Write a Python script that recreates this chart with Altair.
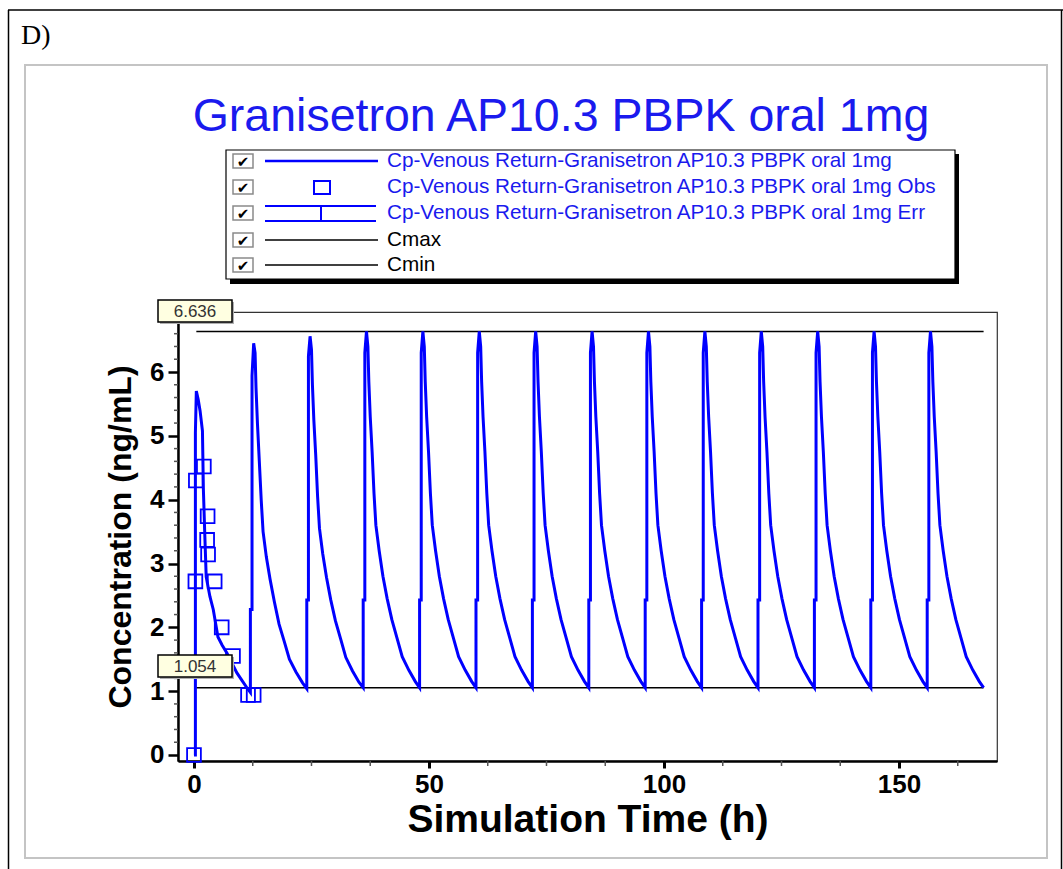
import altair as alt
import pandas as pd

# ---------------- data ----------------
dose_times = [0, 12, 24, 36, 48, 60, 72, 84, 96, 108, 120, 132, 144, 156]

cycle1_rel = [0.0, 0.3, 0.3, 0.5, 0.9, 1.3, 1.8, 2.0, 2.3, 2.6, 3.4, 4.1, 5.1, 6.0, 7.0, 8.0, 9.1, 10.2, 11.3, 12.0]
cycle1_conc = [0.0, 0.0, 5.05, 5.7, 5.57, 5.39, 5.08, 4.16, 3.45, 2.79, 2.48, 2.28, 1.85, 1.72, 1.6, 1.45, 1.29, 1.17, 1.05, 0.98]

later_rel = [0.0, 0.0, 0.35, 0.35, 0.7, 1.0, 1.2, 1.5, 1.9, 2.3, 2.7, 3.4, 4.2, 5.1, 6.1, 7.2, 8.3, 9.7, 11.1, 12.0]
cycle2_conc = [0.98, 2.28, 2.28, 5.94, 6.45, 6.3, 5.75, 5.2, 4.6, 4.0, 3.5, 3.1, 2.75, 2.4, 2.05, 1.78, 1.5, 1.3, 1.13, 1.04]
cycle3_conc = [1.04, 2.43, 2.43, 6.25, 6.56, 6.35, 5.8, 5.25, 4.7, 4.05, 3.55, 3.15, 2.78, 2.43, 2.1, 1.82, 1.53, 1.32, 1.14, 1.054]
steady_conc = [1.054, 2.43, 2.43, 6.3, 6.636, 6.4, 5.85, 5.3, 4.75, 4.1, 3.6, 3.2, 2.8, 2.45, 2.12, 1.83, 1.54, 1.33, 1.15, 1.054]

obs_time = [0.0, 0.3, 0.4, 2.1, 2.9, 2.8, 3.0, 4.4, 5.9, 8.3, 11.5, 12.7]
obs_conc = [0.0, 2.72, 4.3, 4.52, 3.74, 3.37, 3.14, 2.72, 2.0, 1.55, 0.94, 0.94]

cmax_val = 6.636
cmin_val = 1.054
ref_start, ref_end = 0.5, 168.0

x_ticks = [0, 50, 100, 150]
x_minor = [12.5, 25, 37.5, 62.5, 75, 87.5, 112.5, 125, 137.5, 162.5]
y_ticks = [0, 1, 2, 3, 4, 5, 6]
y_minor = [v / 5 for v in range(0, 35) if v % 5 != 0]

title_text = "Granisetron AP10.3 PBPK oral 1mg"
legend_labels = [
    "Cp-Venous Return-Granisetron AP10.3 PBPK oral 1mg",
    "Cp-Venous Return-Granisetron AP10.3 PBPK oral 1mg Obs",
    "Cp-Venous Return-Granisetron AP10.3 PBPK oral 1mg Err",
    "Cmax",
    "Cmin",
]

# ---------------- build tables ----------------
rows = []
i = 0
for k, d in enumerate(dose_times):
    if k == 0:
        rel, conc = cycle1_rel, cycle1_conc
    elif k == 1:
        rel, conc = later_rel, cycle2_conc
    elif k == 2:
        rel, conc = later_rel, cycle3_conc
    else:
        rel, conc = later_rel, steady_conc
    for r, c in zip(rel, conc):
        rows.append({"t": d + r, "c": c, "i": i})
        i += 1
sim = pd.DataFrame(rows)
obs = pd.DataFrame({"t": obs_time, "c": obs_conc})
refs = pd.DataFrame({"t": [ref_start, ref_start], "t2": [ref_end, ref_end], "c": [cmax_val, cmin_val]})
xm = pd.DataFrame({"t": x_minor})
ym = pd.DataFrame({"c": y_minor})
one = pd.DataFrame({"a": [0]})

# ---------------- layout ----------------
W, H = 819, 449
OX, OY = 178, 312
FONT = "Liberation Sans"
BLUE = "#0000ff"
TBLUE = "#1a1aee"

xscale = alt.Scale(domain=[-3.4, 170.85], nice=False, zero=False)
yscale = alt.Scale(domain=[-0.094, 6.94], nice=False, zero=False)
xaxis = alt.Axis(values=x_ticks, title="Simulation Time (h)", grid=False,
                 labelFont=FONT, labelFontSize=26, labelFontWeight="bold", labelColor="black",
                 labelPadding=3, tickSize=7, tickWidth=3, tickColor="black",
                 domainColor="black", domainWidth=2.5,
                 titleFont=FONT, titleFontSize=39, titleFontWeight="bold", titleColor="black",
                 titleY=58, titleBaseline="middle")
yaxis = alt.Axis(values=y_ticks, title="Concentration (ng/mL)", grid=False, format="d",
                 labelFont=FONT, labelFontSize=26, labelFontWeight="bold", labelColor="black",
                 labelPadding=4, tickSize=10, tickWidth=2.5, tickColor="black",
                 domainColor="black", domainWidth=2.5,
                 titleFont=FONT, titleFontSize=32, titleFontWeight="bold", titleColor="black",
                 titleX=-58, titleY=H / 2, titleBaseline="middle")


def X(field="t"):
    return alt.X(f"{field}:Q", scale=xscale, axis=xaxis)


def Y(field="c"):
    return alt.Y(f"{field}:Q", scale=yscale, axis=yaxis)


def rect(x1, y1, x2, y2, **kw):
    return alt.Chart(one).mark_rect(**kw).encode(
        x=alt.value(x1 - OX), x2=alt.value(x2 - OX), y=alt.value(y1 - OY), y2=alt.value(y2 - OY))


def hline(x1, x2, y, color="black", w=1.5):
    return alt.Chart(one).mark_rule(color=color, strokeWidth=w).encode(
        x=alt.value(x1 - OX), x2=alt.value(x2 - OX), y=alt.value(y - OY))


def vline(x, y1, y2, color="black", w=1.5):
    return alt.Chart(one).mark_rule(color=color, strokeWidth=w).encode(
        x=alt.value(x - OX), y=alt.value(y1 - OY), y2=alt.value(y2 - OY))


def text(x, y, s, **kw):
    base = dict(font=FONT, baseline="middle", align="left")
    base.update(kw)
    return alt.Chart(one).mark_text(text=s, **base).encode(x=alt.value(x - OX), y=alt.value(y - OY))


layers = []
# outer frames
layers.append(hline(8, 1063, 10, "black", 1.5))
layers.append(vline(8.5, 10, 869, "black", 1.5))
layers.append(vline(1061.5, 10, 869, "black", 1.5))
layers.append(rect(25, 65, 1047, 858, fill="transparent", stroke="#c4c4c4", strokeWidth=2))
layers.append(text(21, 36, "D)", font="Liberation Serif", fontSize=28, color="black"))

# title
layers.append(text(561, 117, title_text, fontSize=46.5, color=TBLUE, align="center"))

# legend box
layers.append(rect(230, 279, 959, 284, fill="black"))
layers.append(rect(955, 154, 959, 284, fill="black"))
layers.append(rect(226, 150, 955, 279, fill="white", stroke="black", strokeWidth=1.2))
rows_y = [161, 187, 213, 240, 265]
for ry in rows_y:
    layers.append(rect(233, ry - 7, 253, ry + 7, fill="white", stroke="#8a8a8a", strokeWidth=1.5))
    layers.append(text(243, ry + 1, "\u2714", font="DejaVu Sans", fontSize=15, color="black", align="center"))
layers.append(hline(265, 378, rows_y[0], BLUE, 2.5))
layers.append(rect(314, rows_y[1] - 6, 330, rows_y[1] + 7, fill="white", stroke=BLUE, strokeWidth=2))
layers.append(hline(265, 376, 206, BLUE, 2))
layers.append(hline(265, 376, 221, BLUE, 2))
layers.append(vline(321, 206, 221, BLUE, 2))
layers.append(hline(265, 378, rows_y[3], "black", 1.5))
layers.append(hline(265, 378, rows_y[4], "black", 1.5))
for k, (lab, ry) in enumerate(zip(legend_labels, rows_y)):
    layers.append(text(387, ry, lab, fontSize=20.7, color=TBLUE if k < 3 else "black"))

# minor ticks
layers.append(alt.Chart(ym).mark_rule(color="#555", strokeWidth=1.5).encode(
    y=Y(), x=alt.value(-4), x2=alt.value(0)))
layers.append(alt.Chart(xm).mark_rule(color="#555", strokeWidth=1.5).encode(
    x=X(), y=alt.value(H), y2=alt.value(H + 5)))

# Cmax / Cmin reference lines
layers.append(alt.Chart(refs).mark_rule(color="black", strokeWidth=1.5).encode(
    x=X(), x2="t2:Q", y=Y()))

# simulated line
layers.append(alt.Chart(sim).mark_line(color=BLUE, strokeWidth=3).encode(
    x=X(), y=Y(), order="i:Q"))

# observations
layers.append(alt.Chart(obs).mark_point(shape="square", size=190, color=BLUE, filled=False,
                                        strokeWidth=1.8, opacity=1).encode(x=X(), y=Y()))

# value boxes
for val, (by1, by2) in [(cmax_val, (300, 322)), (cmin_val, (655, 677))]:
    layers.append(rect(160, by1 + 2, 234, by2 + 2, fill="#b0b0b0"))
    layers.append(rect(158, by1, 232, by2, fill="#ffffe1", stroke="black", strokeWidth=1.5))
    layers.append(text(195, (by1 + by2) / 2 + 1, f"{val:.3f}", fontSize=17, color="#333", align="center"))

chart = alt.layer(*layers).properties(
    width=W, height=H,
    autosize=alt.AutoSizeParams(type="none"),
    padding={"left": OX, "top": OY, "right": 1063 - OX - W, "bottom": 869 - OY - H},
    background="white",
).configure_view(stroke="#333", strokeWidth=1.2)

chart.save("out.html", embed_options={"renderer": "svg", "actions": False})
